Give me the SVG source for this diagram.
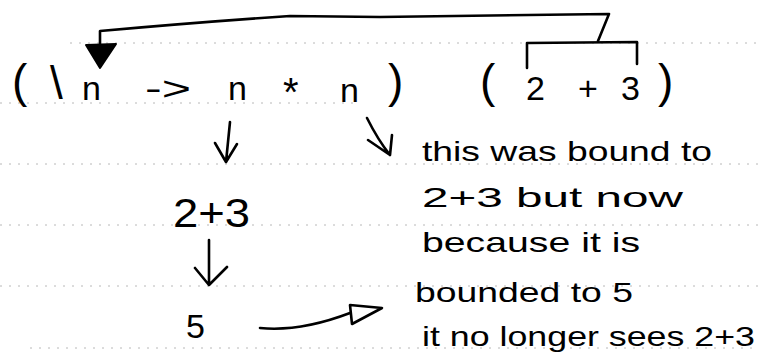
<svg xmlns="http://www.w3.org/2000/svg" width="759" height="360" viewBox="0 0 759 360">
<style>
text{font-family:"Liberation Sans","DejaVu Sans",sans-serif;fill:#000}
.p{font-size:46px}
.t{font-size:34px}
.n{font-size:28px}
.rule{stroke:#b8b8b8;stroke-width:1;stroke-dasharray:2 7;fill:none}
.c{stroke:#000;stroke-width:2.6;fill:none;stroke-linecap:round;stroke-linejoin:round}
</style>
<rect width="759" height="360" fill="#fff"/>
<g id="ruling">
<line class="rule" x1="70" y1="43" x2="759" y2="43"/>
<line class="rule" x1="0" y1="103" x2="360" y2="103"/>
<line class="rule" x1="0" y1="164" x2="759" y2="164"/>
<line class="rule" x1="0" y1="225" x2="759" y2="225"/>
<line class="rule" x1="0" y1="286" x2="759" y2="286"/>
<line class="rule" x1="30" y1="348" x2="759" y2="348"/>
</g>
<g id="lambda">
<text class="p" x="12" y="97">(</text>
<text class="p" x="50" y="99">\</text>
<text class="t" x="82" y="100">n</text>
<text class="t" x="145" y="100" textLength="46" lengthAdjust="spacingAndGlyphs">-&gt;</text>
<text class="t" x="228" y="100">n</text>
<text class="t" x="283" y="106" style="font-size:40px">*</text>
<text class="t" x="340" y="102">n</text>
<text class="p" x="388" y="97">)</text>
</g>
<g id="argument">
<text class="p" x="480" y="97">(</text>
<text class="t" x="526" y="100">2</text>
<text class="t" x="578" y="100">+</text>
<text class="t" x="621" y="100">3</text>
<text class="p" x="658" y="97">)</text>
</g>
<g id="sum">
<text class="t" x="173" y="227" style="font-size:40px" textLength="77" lengthAdjust="spacingAndGlyphs">2+3</text>
</g>
<g id="five">
<text class="t" x="186" y="338">5</text>
</g>
<g id="note">
<text class="n" x="422" y="161" textLength="290" lengthAdjust="spacingAndGlyphs">this was bound to</text>
<text class="n" x="422" y="207" textLength="261" lengthAdjust="spacingAndGlyphs">2+3 but now</text>
<text class="n" x="422" y="252" textLength="218" lengthAdjust="spacingAndGlyphs">because it is</text>
<text class="n" x="415" y="302" textLength="218" lengthAdjust="spacingAndGlyphs">bounded to 5</text>
<text class="n" x="422" y="346" textLength="333" lengthAdjust="spacingAndGlyphs">it no longer sees 2+3</text>
</g>
<g id="connectors">
<path class="c" d="M527,68 L527,43 L637,42 L637,64"/>
<path class="c" d="M598,41 L609,14 L380,17 L290,16 Q200,22 100,31 L100,46"/>
<polygon points="86,45 116,44 100,68" fill="#000" stroke="#000" stroke-width="2" stroke-linejoin="round"/>
<path class="c" d="M230,122 L226,162 M215,143 L226,162 L237,144"/>
<path class="c" d="M367,118 Q378,140 390,155 M368,140 L390,155 L392,135"/>
<path class="c" d="M209,240 L209,285 M195,268 L209,285 L227,267"/>
<path class="c" d="M260,328 Q300,332 350,313"/>
<path class="c" d="M350,305 L382,308 L352,324 Z"/>
</g>
</svg>
